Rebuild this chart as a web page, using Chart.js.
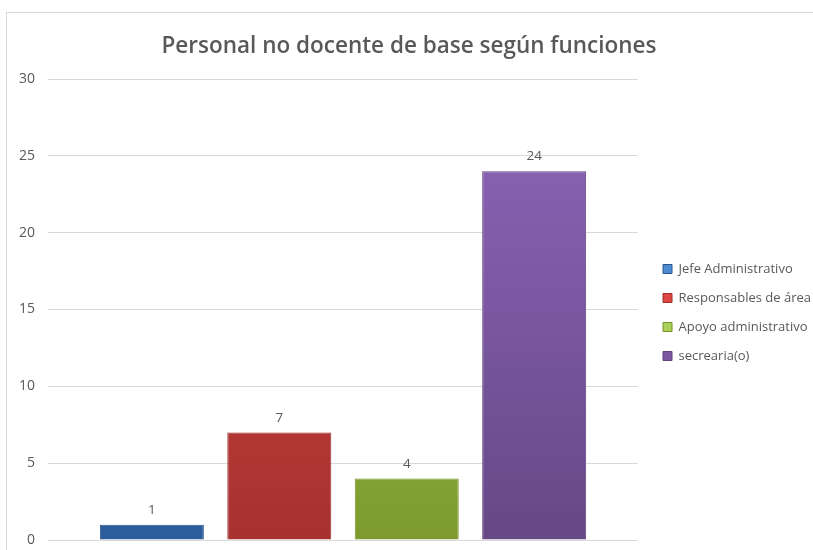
<!DOCTYPE html>
<html>
<head>
<meta charset="utf-8">
<script src="https://cdn.jsdelivr.net/npm/chart.js@4"></script>
<style>
  body { margin: 0; background: #fff; }
  #wrap { position: relative; width: 813px; height: 550px; }
  #marco { position: absolute; left: 6px; top: 12px; width: 820px; height: 560px; border: 1px solid #d9d9d9; }
  canvas { position: absolute; left: 0; top: 0; }
</style>
</head>
<body>
<div id="wrap">
  <div id="marco"></div>
  <canvas id="grafico" width="813" height="550"></canvas>
</div>
<script>
const categorias = [''];
const funciones = ['Jefe Administrativo', 'Responsables de área', 'Apoyo administrativo', 'secrearia(o)'];
const personal = [1, 7, 4, 24];
const ticksY = [0, 5, 10, 15, 20, 25, 30];

const colores = [
    { top: '#4f8bd3', bot: '#2c5c9c', bd: '#2a5590' },
    { top: '#dc4744', bot: '#a63230', bd: '#9a2e2c' },
    { top: '#abd05a', bot: '#7c9a2e', bd: '#76932b' },
    { top: '#8f66ba', bot: '#664886', bd: '#5f437e' },
];

function degradado(ctx, c) {
    const area = ctx.chart.chartArea;
    const el = ctx.element;
    if (!area) return c.top;
    const y0 = el && el.y !== undefined ? el.y : area.top;
    const g = ctx.chart.ctx.createLinearGradient(0, y0, 0, area.bottom);
    g.addColorStop(0, c.top);
    g.addColorStop(1, c.bot);
    return g;
}

const etiquetas = {
    id: 'etiquetas',
    afterLayout(chart) {
        // correr la leyenda como en la hoja original
        const lg = chart.legend;
        lg.left += 9; lg.right += 9;
        lg.top += 26; lg.bottom += 26;
    },
    afterDatasetsDraw(chart) {
        const ctx = chart.ctx;
        ctx.save();
        ctx.font = '13.5px "Open Sans"';
        ctx.fillStyle = '#595959';
        ctx.textAlign = 'center';
        ctx.textBaseline = 'bottom';
        chart.data.datasets.forEach((ds, i) => {
            chart.getDatasetMeta(i).data.forEach((bar, j) => {
                ctx.fillText(ds.data[j], bar.x, bar.y - 8);
            });
        });
        ctx.restore();
    }
};

new Chart(document.getElementById('grafico'), {
    type: 'bar',
    data: {
        labels: categorias,
        datasets: funciones.map((f, i) => ({
            label: f,
            data: [personal[i]],
            backgroundColor: ctx => degradado(ctx, colores[i]),
            borderColor: colores[i].bd,
            borderWidth: 1,
        }))
    },
    options: {
        responsive: false,
        animation: false,
        categoryPercentage: 0.864,
        barPercentage: 0.816,
        layout: { padding: { top: 33, left: 6, right: 1, bottom: 10 } },
        plugins: {
            title: {
                display: true,
                text: 'Personal no docente de base según funciones',
                color: '#595959',
                font: { family: 'Open Sans', size: 22.5, weight: '600' },
                padding: { top: 0, bottom: 19 }
            },
            legend: {
                position: 'right',
                labels: {
                    boxWidth: 9, boxHeight: 9, padding: 16,
                    color: '#595959',
                    font: { family: 'Open Sans', size: 13 }
                }
            },
            tooltip: { enabled: false }
        },
        scales: {
            x: { display: false, grid: { display: false } },
            y: {
                min: 0, max: 30,
                afterBuildTicks: s => { s.ticks = ticksY.map(v => ({ value: v })); },
                afterFit: s => { s.paddingTop = 0; s.paddingBottom = 0; },
                border: { display: false },
                grid: { color: '#d9d9d9', drawTicks: false },
                ticks: { color: '#595959', padding: 13, font: { family: 'Open Sans', size: 14 } }
            }
        }
    },
    plugins: [etiquetas]
});
</script>
</body>
</html>
